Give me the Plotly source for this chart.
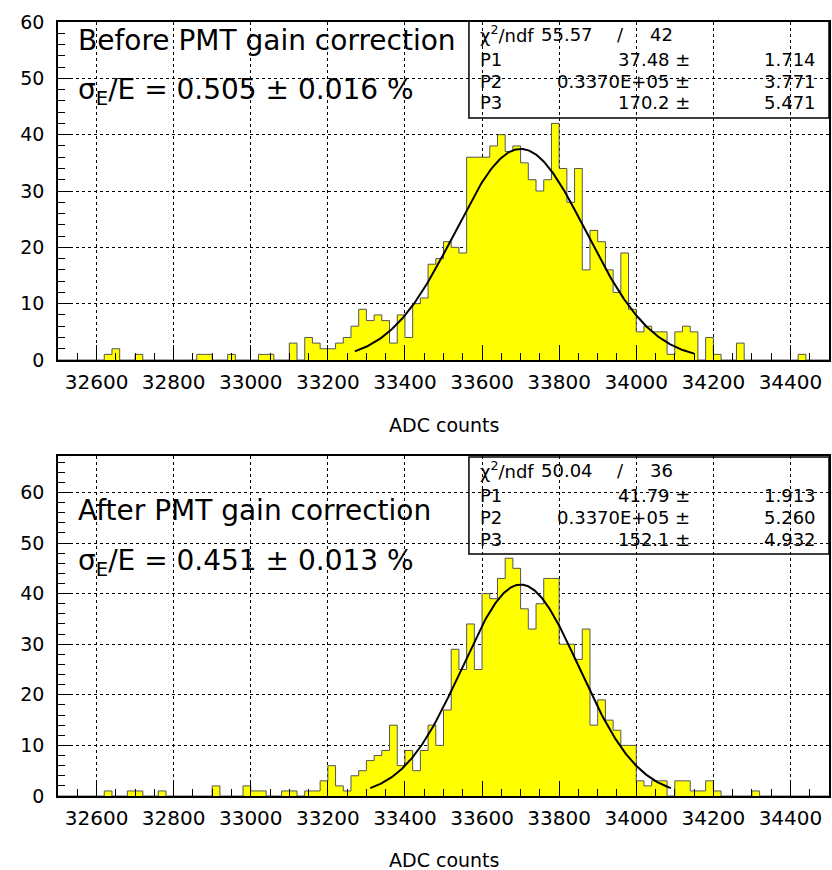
import numpy as np
import plotly.graph_objects as go

# ---------------- data ----------------
bin_start = 32500
bin_width = 20
n_bins = 100

counts_before = [
    0, 0, 0, 0, 0, 0, 1, 2, 0, 0,
    1, 0, 0, 0, 0, 0, 0, 0, 1, 1,
    0, 0, 1, 0, 0, 0, 1, 1, 0, 0,
    3, 0, 4, 3, 2, 2, 3, 4, 6, 9,
    7, 8, 7, 3, 8, 4, 10, 11, 17, 18,
    21, 20, 19, 36, 36, 36, 38, 40, 37, 38,
    35, 32, 30, 32, 42, 34, 28, 34, 16, 23,
    21, 16, 12, 19, 9, 5, 6, 5, 5, 1,
    5, 6, 5, 0, 4, 1, 0, 0, 3, 0,
    0, 0, 0, 0, 0, 0, 1, 0, 0, 0,
]

counts_after = [
    0, 0, 0, 0, 0, 0, 1, 0, 0, 1,
    1, 0, 0, 1, 0, 0, 0, 0, 0, 0,
    2, 0, 0, 0, 2, 1, 1, 0, 0, 1,
    1, 0, 1, 1, 3, 6, 2, 1, 4, 5,
    7, 8, 9, 14, 6, 9, 5, 9, 14, 10,
    17, 29, 25, 34, 25, 40, 39, 43, 47, 45,
    37, 33, 38, 43, 43, 30, 30, 27, 33, 14,
    19, 15, 13, 10, 10, 3, 2, 3, 3, 0,
    3, 3, 1, 1, 3, 1, 0, 0, 0, 0,
    1, 0, 0, 0, 0, 0, 0, 0, 0, 0,
]

# fit parameters (Gaussian: P1 * exp(-0.5*((x-P2)/P3)^2))
fit_before = {"P1": 37.48, "P2": 33700.0, "P3": 170.2}
fit_after = {"P1": 41.79, "P2": 33700.0, "P3": 152.1}
fit_range_before = [33270, 34150]
fit_range_after = [33310, 34090]

stats_before = {"chi2": "55.57", "ndf": "42",
                "P1": ("37.48", "1.714"), "P2": ("0.3370E+05", "3.771"), "P3": ("170.2", "5.471")}
stats_after = {"chi2": "50.04", "ndf": "36",
               "P1": ("41.79", "1.913"), "P2": ("0.3370E+05", "5.260"), "P3": ("152.1", "4.932")}

title_before = "Before PMT gain correction"
title_after = "After PMT gain correction"
res_before = "σ<sub>E</sub>/E = 0.505 ± 0.016 %"
res_after = "σ<sub>E</sub>/E = 0.451 ± 0.013 %"

x_ticks = [32600, 32800, 33000, 33200, 33400, 33600, 33800, 34000, 34200, 34400]
x_ticktext = [str(v) for v in x_ticks]
x_title = "ADC counts"

# ---------------- layout geometry ----------------
W, H = 832, 870
ML, MR, MT, MB = 58, 1, 22, 74
PW = W - ML - MR
PH = H - MT - MB


def px_x(p):
    return (p - ML) / PW


def px_y(p):
    return (H - MB - p) / PH


top_dom = [px_y(360), 1.0]
bot_dom = [0.0, px_y(456)]

FONT = "DejaVu Sans"

edges = bin_start + bin_width * np.arange(n_bins + 1)
centers = edges[:-1] + bin_width / 2

fig = go.Figure()


def add_panel(counts, fit, frange, xa, ya):
    fig.add_trace(go.Bar(x=centers, y=counts, width=bin_width,
                         marker=dict(color="#FFFF00", line=dict(width=0)),
                         xaxis=xa, yaxis=ya, showlegend=False, hoverinfo="skip"))
    fig.add_trace(go.Scatter(x=edges, y=list(counts) + [counts[-1]], mode="lines",
                             line=dict(shape="hv", color="#555555", width=1),
                             xaxis=xa, yaxis=ya, showlegend=False, hoverinfo="skip"))
    xf = np.linspace(frange[0], frange[1], 300)
    yf = fit["P1"] * np.exp(-0.5 * ((xf - fit["P2"]) / fit["P3"]) ** 2)
    fig.add_trace(go.Scatter(x=xf, y=yf, mode="lines",
                             line=dict(color="black", width=2),
                             xaxis=xa, yaxis=ya, showlegend=False, hoverinfo="skip"))


add_panel(counts_before, fit_before, fit_range_before, "x", "y")
add_panel(counts_after, fit_after, fit_range_after, "x2", "y2")

xcommon = dict(range=[bin_start, bin_start + n_bins * bin_width],
               tickmode="array", tickvals=x_ticks, ticktext=x_ticktext,
               ticks="inside", ticklen=15, tickwidth=1, tickcolor="black",
               minor=dict(dtick=50, ticklen=7, tickcolor="black", ticks="inside", showgrid=False),
               showline=True, linecolor="black", linewidth=1.5, mirror=True,
               showgrid=True, gridcolor="black", griddash="dot", gridwidth=1,
               tickfont=dict(family=FONT, size=20, color="black"),
               ticklabelstandoff=3, zeroline=False)
ycommon = dict(dtick=10, tick0=0, ticks="inside", ticklen=15, tickwidth=1, tickcolor="black",
               minor=dict(dtick=2, ticklen=7, tickcolor="black", ticks="inside", showgrid=False),
               showline=True, linecolor="black", linewidth=1.5, mirror=True,
               showgrid=True, gridcolor="black", griddash="dot", gridwidth=1,
               tickfont=dict(family=FONT, size=19, color="black"),
               ticklabelstandoff=8, zeroline=False)

fig.update_layout(
    width=W, height=H,
    margin=dict(l=ML, r=MR, t=MT, b=MB),
    paper_bgcolor="white", plot_bgcolor="white",
    bargap=0,
    xaxis=dict(domain=[0, 1], anchor="y", **xcommon),
    yaxis=dict(domain=top_dom, anchor="x", range=[0, 60], **ycommon),
    xaxis2=dict(domain=[0, 1], anchor="y2", **xcommon),
    yaxis2=dict(domain=bot_dom, anchor="x2", range=[0, 67.2], **ycommon),
    font=dict(family=FONT, color="black"),
)

ann = []


def text(s, x, y, size, xanchor="left"):
    ann.append(dict(text=s, x=px_x(x), y=px_y(y), xref="paper", yref="paper",
                    xanchor=xanchor, yanchor="middle", showarrow=False,
                    font=dict(family=FONT, size=size, color="black")))


# titles inside panels
text(title_before, 76, 41, 28)
text(res_before, 76, 92, 28)
text(title_after, 76, 510, 28)
text(res_after, 76, 562, 28)

# x-axis titles
text(x_title, 445, 425, 19, "center")
text(x_title, 445, 860, 19, "center")

shapes = []


def stats_box(st, top, bottom):
    shapes.append(dict(type="rect", xref="paper", yref="paper",
                       x0=px_x(470), x1=px_x(831), y0=px_y(bottom), y1=px_y(top),
                       line=dict(color="black", width=1.5), fillcolor="rgba(0,0,0,0)"))
    r0 = top + 13
    text("χ<sup>2</sup>/ndf", 479, r0, 18)
    text(st["chi2"], 540, r0, 18)
    text("/", 622, r0, 18, "center")
    text(st["ndf"], 663, r0, 18, "center")
    for i, key in enumerate(["P1", "P2", "P3"]):
        yy = top + 38 + 22 * i
        text(key, 479, yy, 18)
        text(st[key][0] + " ±", 694, yy, 18, "right")
        text(st[key][1], 820, yy, 18, "right")


stats_box(stats_before, 21, 118)
stats_box(stats_after, 457, 554)

fig.update_layout(annotations=ann, shapes=shapes)

fig.write_html("out.html")
